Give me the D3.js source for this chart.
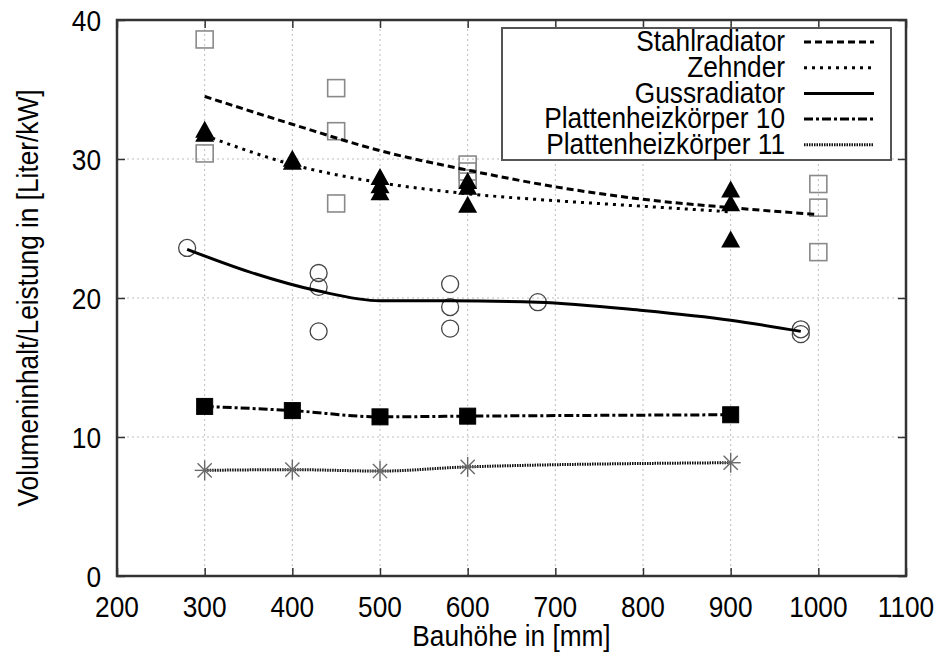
<!DOCTYPE html>
<html>
<head>
<meta charset="utf-8">
<script src="https://cdn.jsdelivr.net/npm/d3@7/dist/d3.min.js"></script>
<style>
html,body{margin:0;padding:0;background:#fff;}
#wrap{position:relative;width:942px;height:657px;}
svg{position:absolute;left:0;top:0;}
text{font-family:"Liberation Sans",Arial,Helvetica,sans-serif;fill:#000;}
#legendText{position:absolute;left:0;width:785px;text-align:right;white-space:nowrap;
  font-family:"Liberation Sans",Arial,Helvetica,sans-serif;color:#000;transform-origin:785px 0;}
</style>
</head>
<body>
<div id="wrap"><svg id="chart" width="942" height="657"></svg></div>
<script>
// ---- data ----
const xTicks = [200,300,400,500,600,700,800,900,1000,1100];
const yTicks = [0,10,20,30,40];
const seriesNames = ["Stahlradiator","Zehnder","Gussradiator","Plattenheizkörper 10","Plattenheizkörper 11"];

// Stahlradiator measured points (open squares)
const stahlX = [300,300,450,450,450,600,600,600,1000,1000,1000];
const stahlY = [38.6,30.4,35.1,32.0,26.8,29.6,29.1,28.6,28.2,26.5,23.3];
// Stahlradiator fit curve
const stahlFitX = [300,400,500,600,700,800,900,1000];
const stahlFitY = [34.5,32.5,30.6,29.2,28.0,27.1,26.5,26.0];

// Zehnder measured points (filled triangles)
const zehnderX = [300,300,400,400,500,500,500,600,600,600,900,900,900];
const zehnderY = [32.0,31.7,29.9,29.7,28.6,28.0,27.5,28.3,27.9,26.6,27.7,26.7,24.1];
// Zehnder fit curve
const zehnderFitX = [300,400,500,600,700,800,900];
const zehnderFitY = [31.7,29.6,28.3,27.5,27.0,26.6,26.2];

// Gussradiator measured points (open circles)
const gussX = [280,430,430,430,580,580,580,680,980,980];
const gussY = [23.6,21.8,20.8,17.6,21.0,19.35,17.8,19.7,17.75,17.4];
// Gussradiator fit curve
const gussFitX = [280,350,430,500,580,680,800,900,980];
const gussFitY = [23.5,21.9,20.5,19.8,19.8,19.7,19.1,18.4,17.6];

// Plattenheizkörper 10 (filled squares)
const p10X = [300,400,500,600,900];
const p10Y = [12.2,11.9,11.45,11.5,11.6];

// Plattenheizkörper 11 (asterisks)
const p11X = [300,400,500,600,900];
const p11Y = [7.6,7.65,7.55,7.85,8.15];

// ---- chart ----
const svg = d3.select("#chart");
const x = d3.scaleLinear().domain([200,1100]).range([117,906]);
const y = d3.scaleLinear().domain([0,40]).range([576,20]);
const X0 = x.range()[0], X1 = x.range()[1], Y0 = y.range()[0], Y1 = y.range()[1];

const FS = 29, SX = 0.905;
// condensed text helper: places text at (tx,ty) with horizontal squeeze
function label(parent, tx, ty, str, anchor, rot){
  const g = parent.append("g").attr("transform",`translate(${tx},${ty})${rot?` rotate(${rot})`:""} scale(${SX},1)`);
  g.append("text").attr("x",0).attr("y",0).attr("text-anchor",anchor).attr("font-size",FS).text(str);
  return g;
}

// grid
const grid = svg.append("g").attr("stroke","#bdbdbd").attr("stroke-width",1).attr("stroke-dasharray","2,3");
xTicks.slice(1,-1).forEach(t=>grid.append("line").attr("x1",x(t)).attr("x2",x(t)).attr("y1",Y0).attr("y2",Y1));
yTicks.slice(1,-1).forEach(t=>grid.append("line").attr("y1",y(t)).attr("y2",y(t)).attr("x1",X0).attr("x2",X1));

// axes with inward ticks (mirror)
const axB = svg.append("g").attr("transform",`translate(0,${Y0})`)
  .call(d3.axisBottom(x).tickValues(xTicks).tickSizeInner(-8).tickSizeOuter(0).tickFormat(""));
const axT = svg.append("g").attr("transform",`translate(0,${Y1})`)
  .call(d3.axisTop(x).tickValues(xTicks).tickSizeInner(-8).tickSizeOuter(0).tickFormat(""));
const axL = svg.append("g").attr("transform",`translate(${X0},0)`)
  .call(d3.axisLeft(y).tickValues(yTicks).tickSizeInner(-8).tickSizeOuter(0).tickFormat(""));
const axR = svg.append("g").attr("transform",`translate(${X1},0)`)
  .call(d3.axisRight(y).tickValues(yTicks).tickSizeInner(-8).tickSizeOuter(0).tickFormat(""));
[axB,axT,axL,axR].forEach(a=>{
  a.select(".domain").remove();
  a.selectAll(".tick line").attr("stroke","#333").attr("stroke-width",1.5);
});
const fmt = d3.format("d");
xTicks.forEach(t=>label(svg, x(t), 617, fmt(t), "middle"));
yTicks.forEach(t=>label(svg, 101, y(t)+10.5, fmt(t), "end"));

// border
svg.append("rect").attr("x",X0).attr("y",Y1).attr("width",X1-X0).attr("height",Y0-Y1)
  .attr("fill","none").attr("stroke","#333").attr("stroke-width",2.5);

// axis titles
label(svg, (X0+X1)/2, 646, "Bauhöhe in [mm]", "middle");
label(svg, 38, (Y0+Y1)/2, "Volumeninhalt/Leistung in [Liter/kW]", "middle", -90);

const zip = (xs,ys)=>xs.map((v,i)=>[v,ys[i]]);
const line = d3.line().x(d=>x(d[0])).y(d=>y(d[1])).curve(d3.curveMonotoneX);

const styles = [
  {dash:"7,4", color:"#000", w:3},
  {dash:"3,5", color:"#000", w:3},
  {dash:null, color:"#000", w:3},
  {dash:"9,3,3,3", color:"#000", w:3},
  {dash:"1.5,1", color:"#111", w:3}
];
function drawLine(data, s){
  const p = svg.append("path").datum(data).attr("d",line).attr("fill","none")
    .attr("stroke",s.color).attr("stroke-width",s.w).attr("stroke-linejoin","round");
  if(s.dash) p.attr("stroke-dasharray",s.dash);
}

// markers
function square(g,cx,cy,s,filled){
  g.append("rect").attr("x",cx-s/2).attr("y",cy-s/2).attr("width",s).attr("height",s)
   .attr("fill",filled?"#000":"none").attr("stroke",filled?"#000":"#8a8a8a").attr("stroke-width",filled?1:1.6);
}
function triangle(g,cx,cy){
  const w=19,h=17;
  g.append("path").attr("d",`M${cx},${cy-h*0.62}L${cx+w/2},${cy+h*0.38}L${cx-w/2},${cy+h*0.38}Z`).attr("fill","#000");
}
function circle(g,cx,cy){
  g.append("circle").attr("cx",cx).attr("cy",cy).attr("r",8.5).attr("fill","none").attr("stroke","#444").attr("stroke-width",1.3);
}
function star(g,cx,cy){
  const r=10;
  [0,45,90,135].forEach(a=>{
    const dx=r*Math.cos(a*Math.PI/180), dy=r*Math.sin(a*Math.PI/180);
    g.append("line").attr("x1",cx-dx).attr("y1",cy-dy).attr("x2",cx+dx).attr("y2",cy+dy)
     .attr("stroke","#6a6a6a").attr("stroke-width",1.4);
  });
}

const mk = svg.append("g");
zip(stahlX,stahlY).forEach(d=>square(mk,x(d[0]),y(d[1]),17,false));
zip(gussX,gussY).forEach(d=>circle(mk,x(d[0]),y(d[1])));

drawLine(zip(stahlFitX,stahlFitY),styles[0]);
drawLine(zip(zehnderFitX,zehnderFitY),styles[1]);
drawLine(zip(gussFitX,gussFitY),styles[2]);
drawLine(zip(p10X,p10Y),styles[3]);
drawLine(zip(p11X,p11Y),styles[4]);

const mk2 = svg.append("g");
zip(zehnderX,zehnderY).forEach(d=>triangle(mk2,x(d[0]),y(d[1])));
zip(p10X,p10Y).forEach(d=>square(mk2,x(d[0]),y(d[1]),16,true));
zip(p11X,p11Y).forEach(d=>star(mk2,x(d[0]),y(d[1])));

// legend
const ROW = 25.7;
const lg = svg.append("g");
lg.append("rect").attr("x",502).attr("y",28).attr("width",389).attr("height",132)
  .attr("fill","#fff").attr("stroke","#555").attr("stroke-width",2);
const rowY = i => 42 + i*ROW;
seriesNames.forEach((n,i)=>{
  const l = lg.append("line").attr("x1",804).attr("x2",874).attr("y1",rowY(i)).attr("y2",rowY(i))
    .attr("stroke",styles[i].color).attr("stroke-width",styles[i].w);
  if(styles[i].dash) l.attr("stroke-dasharray",styles[i].dash);
});
// legend labels: one text block with the reference's row pitch as line height
const baseline0 = rowY(0) + 10;
const topPx = baseline0 - (ROW/2 + (0.905-0.212)/2*FS);
d3.select("#wrap").append("div").attr("id","legendText")
  .style("top", topPx+"px")
  .style("font-size", FS+"px")
  .style("line-height", ROW+"px")
  .style("transform", `scaleX(${SX})`)
  .html(seriesNames.join("<br>"));
</script>
</body>
</html>
